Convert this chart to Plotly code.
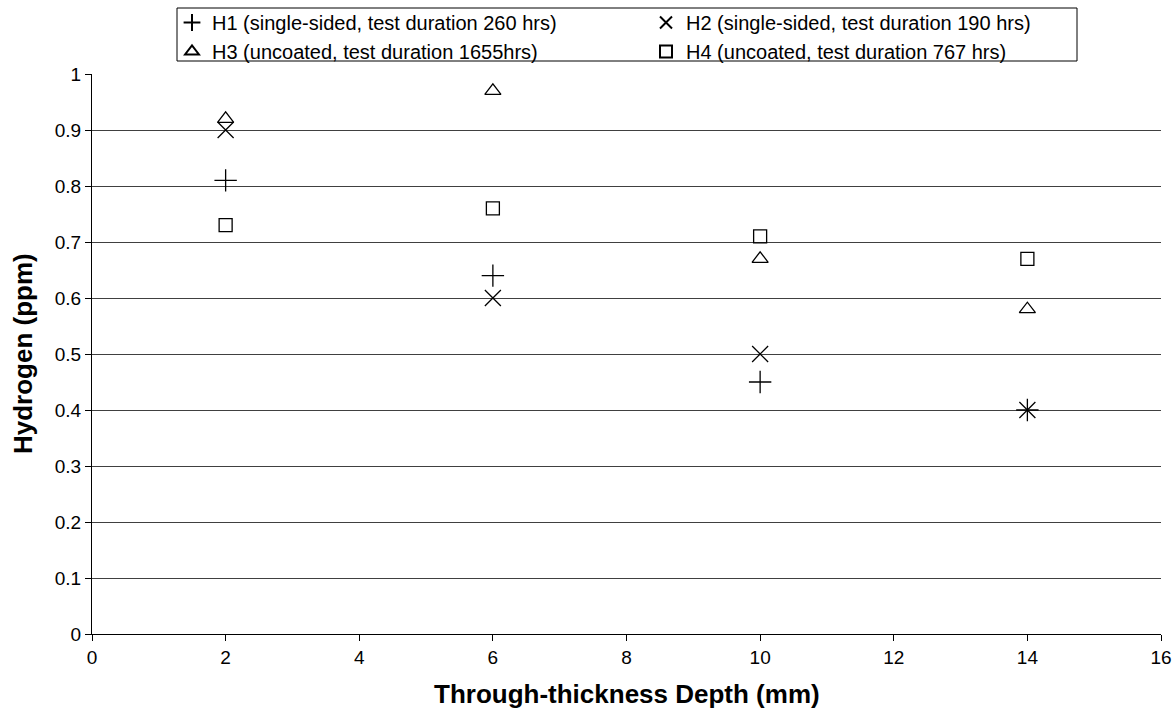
import plotly.graph_objects as go

depth = [2, 6, 10, 14]
h1 = [0.81, 0.64, 0.45, 0.40]
h2 = [0.90, 0.60, 0.50, 0.40]
h3 = [0.92, 0.97, 0.67, 0.58]
h4 = [0.73, 0.76, 0.71, 0.67]

names = [
    "H1 (single-sided, test duration 260 hrs)",
    "H2 (single-sided, test duration 190 hrs)",
    "H3 (uncoated, test duration 1655hrs)",
    "H4 (uncoated, test duration 767 hrs)",
]
symbols = ["cross-thin", "x-thin", "triangle-up-open", "square-open"]
sizes = [16, 16, 14, 13]
# left column holds H1/H3, right column H2/H4
legend_ids = ["legend", "legend2", "legend", "legend2"]

fig = go.Figure()
for name, ys, sym, sz, lg in zip(names, [h1, h2, h3, h4], symbols, sizes, legend_ids):
    fig.add_trace(go.Scatter(
        x=depth, y=ys, mode="markers", name=name, legend=lg,
        marker=dict(symbol=sym, size=sz, color="black",
                    line=dict(color="black", width=1.3)),
    ))

FONT = "Liberation Sans, Arial"
tick_font = dict(family=FONT, size=19, color="black")
title_font = dict(family=FONT, size=26, color="black")
legend_font = dict(family=FONT, size=20, color="black")

W, H = 1173, 720
L, R, T, B = 92, 12, 74, 86
pw, ph = W - L - R, H - T - B


def px_to_paper_x(px):
    return (px - L) / pw


def px_to_paper_y(py):
    return 1 + (T - py) / ph


common_legend = dict(
    orientation="v",
    xref="container", yref="container",
    yanchor="top", xanchor="left",
    y=1 - 3 / H,
    bgcolor="rgba(0,0,0,0)", borderwidth=0,
    font=legend_font, itemsizing="constant",
    tracegroupgap=0,
)

fig.update_layout(
    width=W, height=H,
    margin=dict(l=L, r=R, t=T, b=B, autoexpand=False),
    paper_bgcolor="white", plot_bgcolor="white",
    font=tick_font,
    showlegend=True,
    legend=dict(common_legend, x=172 / W),
    legend2=dict(common_legend, x=646 / W),
    shapes=[dict(
        type="rect", xref="paper", yref="paper",
        x0=px_to_paper_x(177), x1=px_to_paper_x(1077),
        y0=px_to_paper_y(61), y1=px_to_paper_y(8),
        line=dict(color="black", width=1), fillcolor="rgba(0,0,0,0)",
        layer="above",
    )],
    annotations=[
        dict(text="<b>Through-thickness Depth (mm)</b>", font=title_font,
             xref="paper", yref="paper", x=0.5, y=px_to_paper_y(694),
             xanchor="center", yanchor="middle", showarrow=False),
        dict(text="<b>Hydrogen (ppm)</b>", font=title_font, textangle=-90,
             xref="paper", yref="paper", x=px_to_paper_x(23), y=0.5,
             xanchor="center", yanchor="middle", showarrow=False),
    ],
    xaxis=dict(
        range=[0, 16], dtick=2, tick0=0,
        showline=True, linecolor="black", linewidth=1,
        ticks="outside", ticklen=6, tickcolor="black",
        showgrid=False, zeroline=False,
        tickfont=tick_font,
    ),
    yaxis=dict(
        range=[0, 1], dtick=0.1, tick0=0,
        showline=True, linecolor="black", linewidth=1,
        ticks="outside", ticklen=6, tickcolor="black",
        showgrid=True, gridcolor="#404040", gridwidth=1,
        zeroline=False,
        tickfont=tick_font,
    ),
)

fig.write_html("out.html")
